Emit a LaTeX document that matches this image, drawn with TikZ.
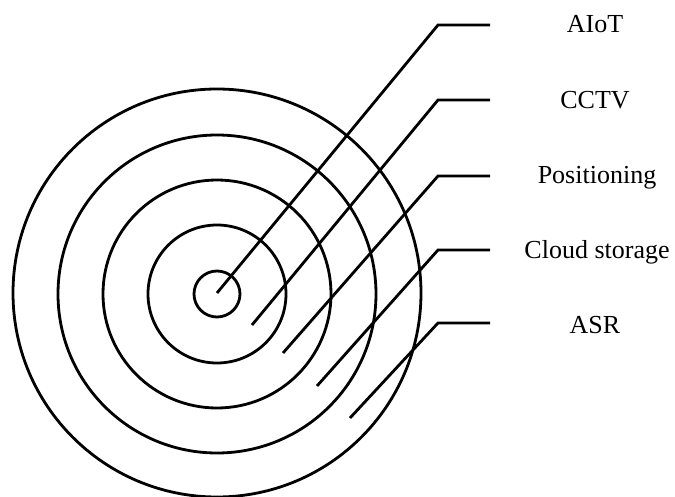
\documentclass[tikz,border=0pt]{standalone}
\usepackage{fontspec}
\setmainfont{Liberation Serif}
\begin{document}
\begin{tikzpicture}[x=1pt,y=-1pt,
  ring/.style={draw=black,line width=2.8pt,circle,inner sep=0pt,minimum size=#1},
  leader/.style={draw=black,line width=2.8pt,line join=miter},
  lab/.style={anchor=base,font=\fontsize{26}{30}\selectfont,inner sep=0pt}]
\useasboundingbox (0,0) rectangle (675,497);
\node[ring=46pt]  (r1) at (217,294) {};
\node[ring=138pt] (r2) at (217,294) {};
\node[ring=228pt] (r3) at (217,294) {};
\node[ring=318pt] (r4) at (217,294) {};
\node[ring=408pt] (r5) at (217,293) {};
% leader start points, elbows, ends
\coordinate (s1) at (217,293); \coordinate (e1) at (438,25);  \coordinate (h1) at (490,25);
\coordinate (s2) at (252,325); \coordinate (e2) at (438,100); \coordinate (h2) at (490,100);
\coordinate (s3) at (283,353); \coordinate (e3) at (438,176); \coordinate (h3) at (490,176);
\coordinate (s4) at (317,386); \coordinate (e4) at (438,250); \coordinate (h4) at (490,250);
\coordinate (s5) at (350,418); \coordinate (e5) at (438,323); \coordinate (h5) at (490,323);
\foreach \i in {1,...,5} {\draw[leader] (s\i) -- (e\i) -- (h\i);}
\node[lab] (t1) at (595,33)  {AIoT};
\node[lab] (t2) at (595,109) {CCTV};
\node[lab] (t3) at (597,184) {Positioning};
\node[lab] (t4) at (597,259) {Cloud storage};
\node[lab] (t5) at (595,333) {ASR};
\end{tikzpicture}
\end{document}
